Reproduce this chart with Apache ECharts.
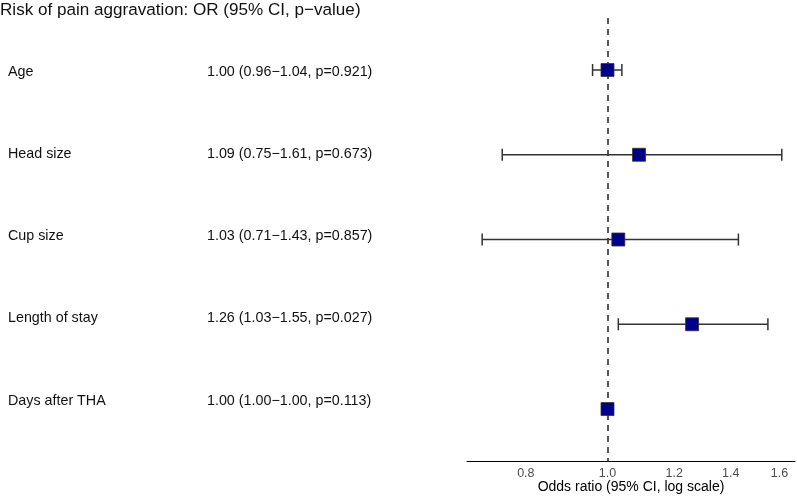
<!DOCTYPE html>
<html>
<head>
<meta charset="utf-8">
<script src="https://cdn.jsdelivr.net/npm/echarts@6/dist/echarts.min.js"></script>
<style>
  html, body { margin: 0; padding: 0; background: #fff; }
  #chart { width: 797px; height: 496px; }
</style>
</head>
<body>
<div id="chart"></div>
<script>
// forest plot data
const labels = ['Age', 'Head size', 'Cup size', 'Length of stay', 'Days after THA'];
const oddsRatio = [1.00, 1.09, 1.03, 1.26, 1.00];
const ciLow = [0.96, 0.75, 0.71, 1.03, 1.00];
const ciHigh = [1.04, 1.61, 1.43, 1.55, 1.00];
const pValues = [0.921, 0.673, 0.857, 0.027, 0.113];
const tickValues = [0.8, 1.0, 1.2, 1.4, 1.6];

const FONT = "'Liberation Sans', Arial, Helvetica, sans-serif";

const summary = labels.map((l, i) =>
  oddsRatio[i].toFixed(2) + ' (' + ciLow[i].toFixed(2) + '\u2212' + ciHigh[i].toFixed(2) +
  ', p=' + pValues[i].toFixed(3) + ')'
);

// x axis works on ln(OR) so it behaves like a log scale
const pointData = oddsRatio.map((v, i) => [Math.log(v), i]);
const barData = labels.map((l, i) => [Math.log(ciLow[i]), Math.log(ciHigh[i]), i]);

const chart = echarts.init(document.getElementById('chart'), null, { renderer: 'canvas' });

const option = {
  animation: false,
  textStyle: { fontFamily: FONT },
  title: {
    text: 'Risk of pain aggravation: OR (95% CI, p\u2212value)',
    left: 0,
    top: 2,
    padding: 0,
    textStyle: { fontFamily: FONT, fontSize: 17.1, fontWeight: 'normal', color: '#111' }
  },
  grid: [
    { left: 467, width: 328, top: 18, height: 443.5, outerBoundsMode: 'none', containLabel: false },
    { left: 467, width: 328, top: 30.5, height: 411.25, outerBoundsMode: 'none', containLabel: false }
  ],
  xAxis: [
    {
      type: 'value',
      gridIndex: 0,
      min: -0.3839,
      max: 0.5123,
      axisLine: { show: true, onZero: false, lineStyle: { color: '#000', width: 1 } },
      axisTick: { show: false },
      splitLine: { show: false },
      axisLabel: {
        customValues: tickValues.map(v => Math.log(v)),
        formatter: v => Math.exp(v).toFixed(1),
        color: '#4d4d4d',
        fontSize: 12.5,
        margin: 6,
        fontFamily: FONT
      },
      name: 'Odds ratio (95% CI, log scale)',
      nameLocation: 'middle',
      nameGap: 19,
      nameMoveOverlap: false,
      nameTextStyle: { color: '#000', fontSize: 14, fontFamily: FONT }
    },
    { type: 'value', gridIndex: 1, show: false }
  ],
  yAxis: [
    {
      type: 'value',
      gridIndex: 0,
      inverse: true,
      min: -0.6136,
      max: 4.619,
      show: false
    },
    {
      type: 'category',
      gridIndex: 1,
      inverse: true,
      data: labels,
      axisLine: { show: false },
      axisTick: { show: false },
      splitLine: { show: false },
      axisLabel: {
        align: 'left',
        margin: 459,
        formatter: (v, i) => '{a|' + v + '}{b|' + summary[i] + '}',
        rich: {
          a: { width: 199, fontSize: 14.3, color: '#111', fontFamily: FONT },
          b: { fontSize: 14.3, color: '#111', fontFamily: FONT }
        }
      }
    }
  ],
  series: [
    {
      type: 'custom',
      xAxisIndex: 0,
      yAxisIndex: 0,
      data: barData,
      z: 2,
      renderItem: (params, api) => {
        const y = api.value(2);
        const p1 = api.coord([api.value(0), y]);
        const p2 = api.coord([api.value(1), y]);
        const cap = 6;
        const style = { stroke: '#333', lineWidth: 1.5 };
        return {
          type: 'group',
          children: [
            { type: 'line', shape: { x1: p1[0], y1: p1[1], x2: p2[0], y2: p2[1] }, style },
            { type: 'line', shape: { x1: p1[0], y1: p1[1] - cap, x2: p1[0], y2: p1[1] + cap }, style },
            { type: 'line', shape: { x1: p2[0], y1: p2[1] - cap, x2: p2[0], y2: p2[1] + cap }, style }
          ]
        };
      }
    },
    {
      type: 'scatter',
      xAxisIndex: 0,
      yAxisIndex: 0,
      data: pointData,
      symbol: 'rect',
      symbolSize: 13,
      z: 3,
      itemStyle: { color: '#00008b', borderColor: '#333', borderWidth: 0.8, opacity: 1 },
      markLine: {
        silent: true,
        symbol: 'none',
        label: { show: false },
        lineStyle: { color: '#222', width: 1.5, type: [6, 5] },
        data: [{ xAxis: 0 }],
        z: 1
      }
    }
  ]
};

chart.setOption(option);
</script>
</body>
</html>
